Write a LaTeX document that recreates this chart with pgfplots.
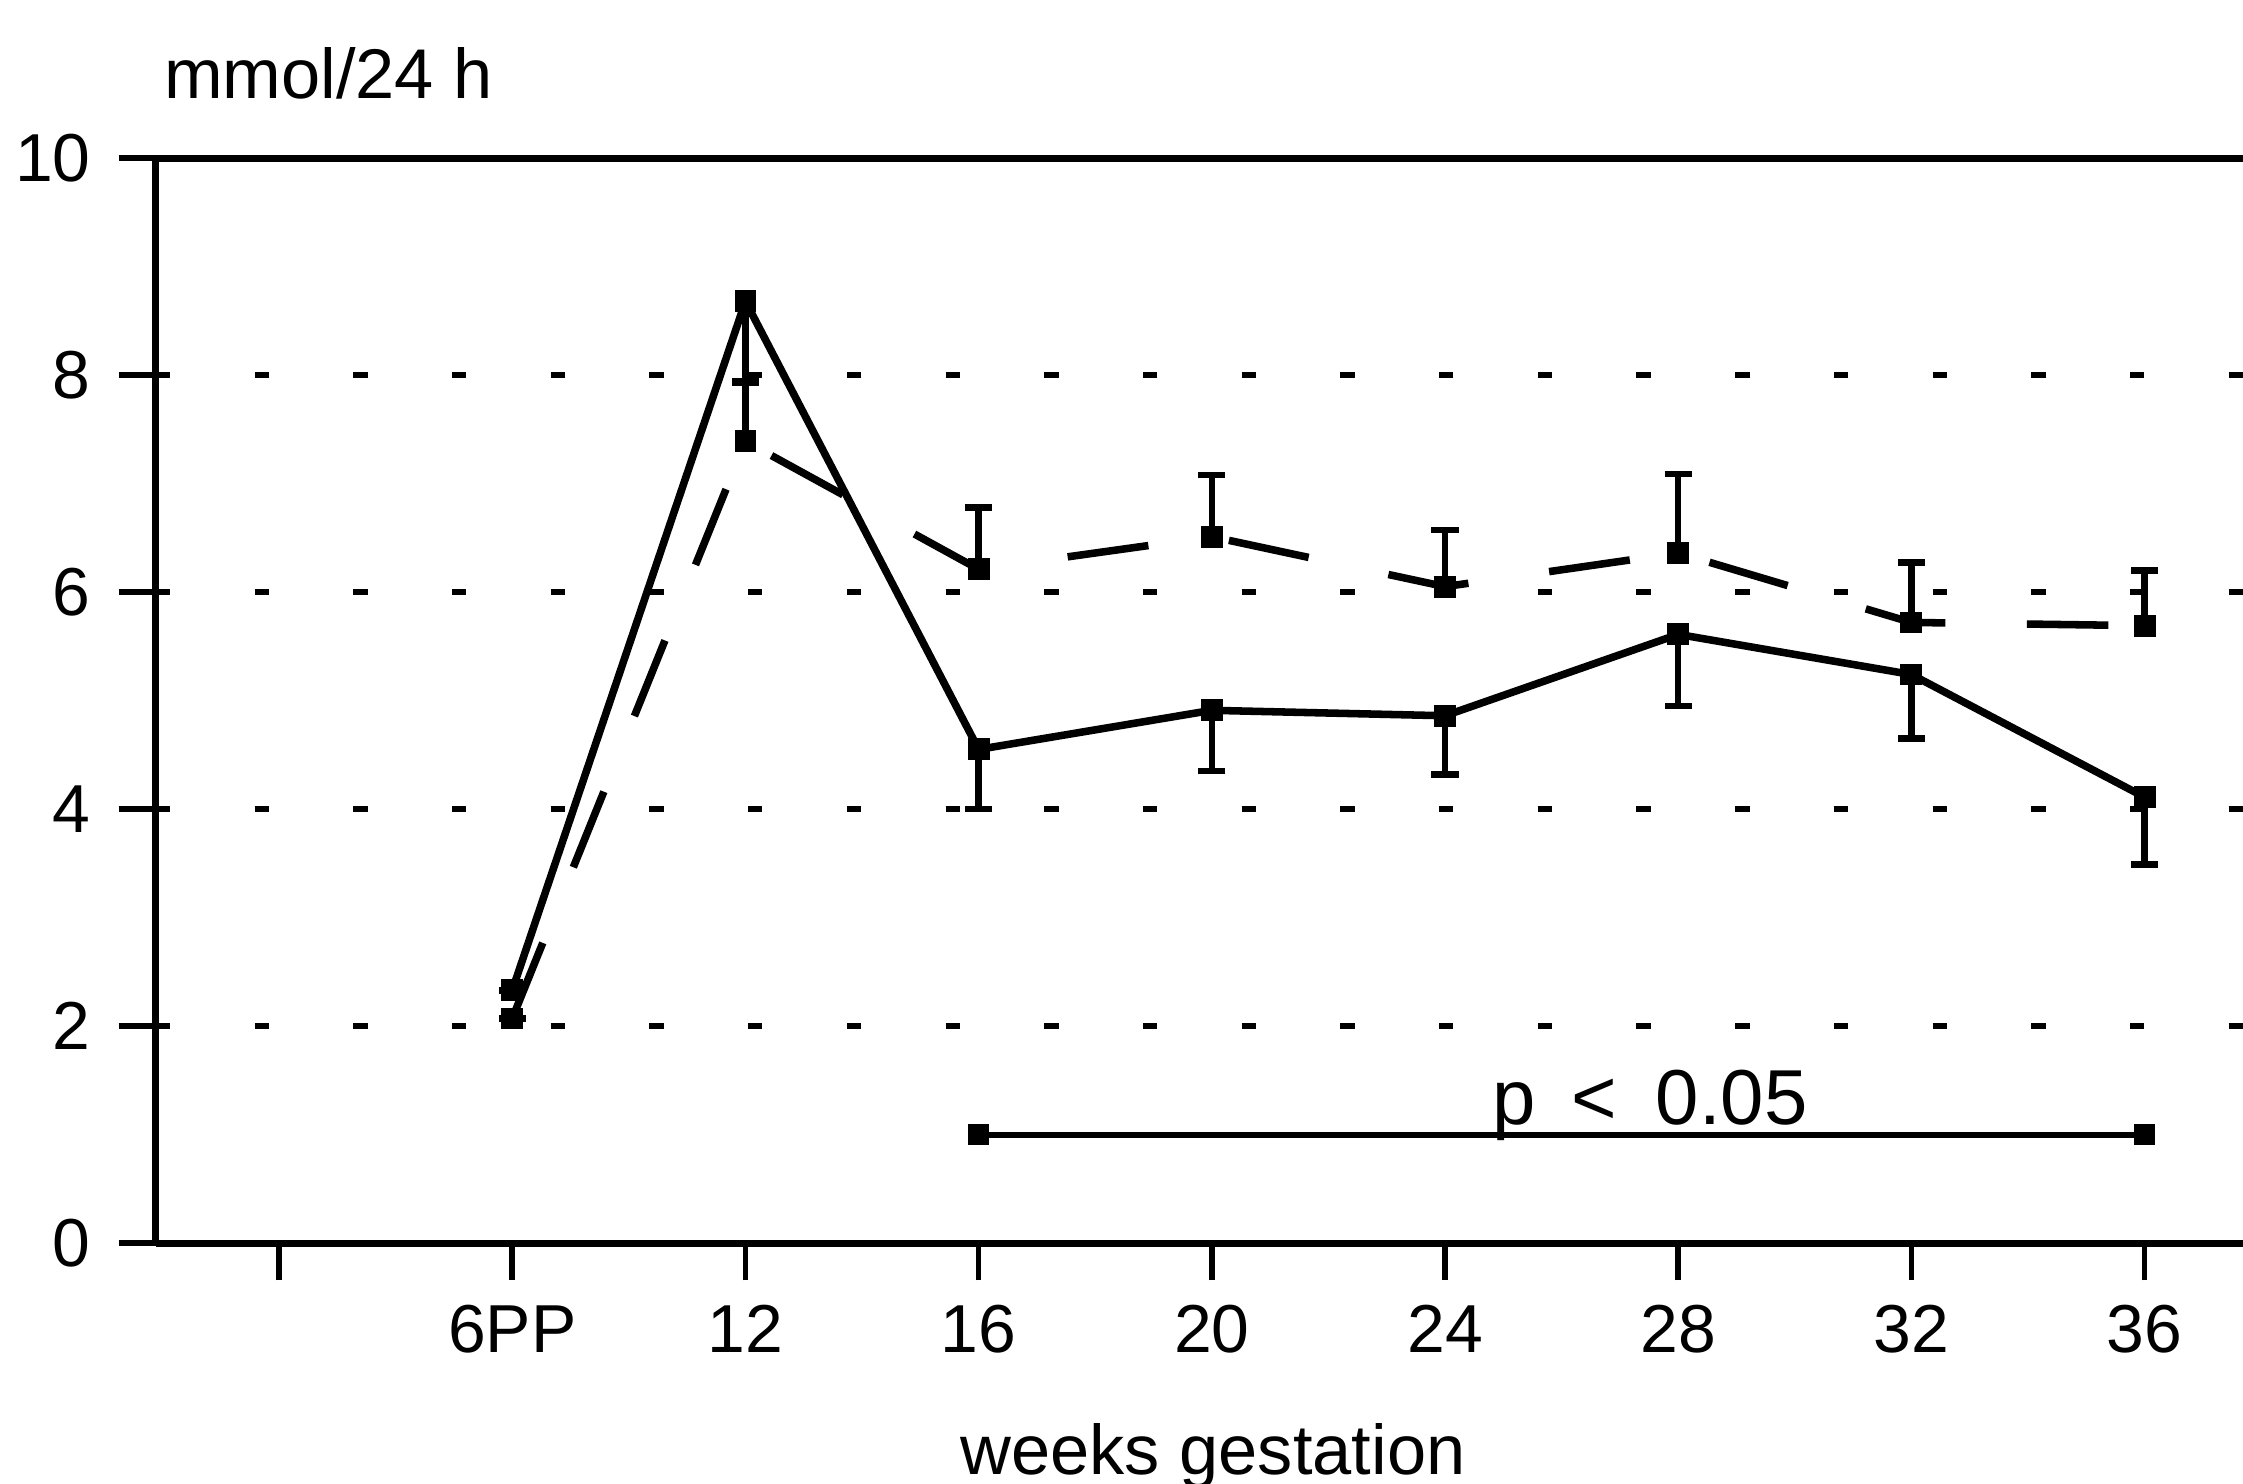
\documentclass[border=0pt]{standalone}
\usepackage{fontspec}
\setmainfont{Liberation Sans}
\usepackage{pgfplots}
\pgfplotsset{compat=1.18}

\begin{document}
\begin{tikzpicture}
\useasboundingbox (0,0) rectangle (156.8mm,103.7mm);
\begin{axis}[
    at={(10.9mm,16.8mm)}, anchor=south west,
    scale only axis, width=145.9mm, height=75.85mm,
    xmin=0.472, xmax=9.422, ymin=0, ymax=10,
    axis x line*=box, axis y line*=left,
    axis line style={line width=1.4pt, -},
    xtick={1,...,9},
    xticklabels={,6PP,12,16,20,24,28,32,36},
    ytick={0,2,...,10},
    xtick pos=left, ytick pos=left,
    tick align=outside, major tick length=2.6mm,
    tick style={line width=1.1pt, black},
    ymajorgrids,
    grid style={black, line width=1.1pt, dash pattern=on 1mm off 5.9mm},
    /pgf/number format/assume math mode=true,
    ticklabel style={font=\fontsize{13.5}{16}\selectfont},
    xticklabel style={anchor=north, inner sep=0pt, yshift=-1.7mm},
    yticklabel style={anchor=east, inner sep=0pt, xshift=-1.9mm},
    clip=false,
]
% solid series, lower error bars
\addplot[black, line width=1.5pt, mark=square*, mark size=0.5mm,
    error bars/.cd, y dir=minus, y explicit, error mark=-,
    error bar style={line width=1.3pt, solid},
    error mark options={rotate=90, line width=1.3pt, mark size=0.95mm}]
    coordinates {
    (2,2.33) +- (0,0)
    (3,8.68) +- (0,0.75)
    (4,4.55) +- (0,0.55)
    (5,4.91) +- (0,0.56)
    (6,4.86) +- (0,0.54)
    (7,5.61) +- (0,0.66)
    (8,5.24) +- (0,0.59)
    (9,4.11) +- (0,0.62)
    };
% dashed series, upper error bars
\addplot[black, line width=1.5pt, dash pattern=on 5.7mm off 5.7mm,
    mark=square*, mark size=0.5mm, mark options={solid},
    error bars/.cd, y dir=plus, y explicit, error mark=-,
    error bar style={line width=1.3pt, solid},
    error mark options={rotate=90, line width=1.3pt, mark size=0.95mm, solid}]
    coordinates {
    (2,2.07) +- (0,0)
    (3,7.39) +- (0,0.55)
    (4,6.21) +- (0,0.57)
    (5,6.51) +- (0,0.57)
    (6,6.05) +- (0,0.52)
    (7,6.36) +- (0,0.73)
    (8,5.72) +- (0,0.55)
    (9,5.69) +- (0,0.51)
    };
% significance bar
\addplot[black, line width=1.2pt, mark=square*, mark size=0.5mm]
    coordinates {(4,1) (9,1)};
\node[anchor=base, inner sep=0pt, font=\fontsize{15.5}{18}\selectfont]
    at (axis cs:6.88,1.095) {p\hspace{0.45em}<\hspace{0.5em}0.05};
\draw[line width=1.4pt] (rel axis cs:0,1) -- (rel axis cs:1,1);
\end{axis}
\node[anchor=base west, inner sep=0pt, font=\fontsize{14}{17}\selectfont]
    at (11.4mm,96.8mm) {mmol/24 h};
\node[anchor=base, inner sep=0pt, font=\fontsize{14}{17}\selectfont]
    at (84.8mm,0.6mm) {weeks gestation};
\end{tikzpicture}
\end{document}
